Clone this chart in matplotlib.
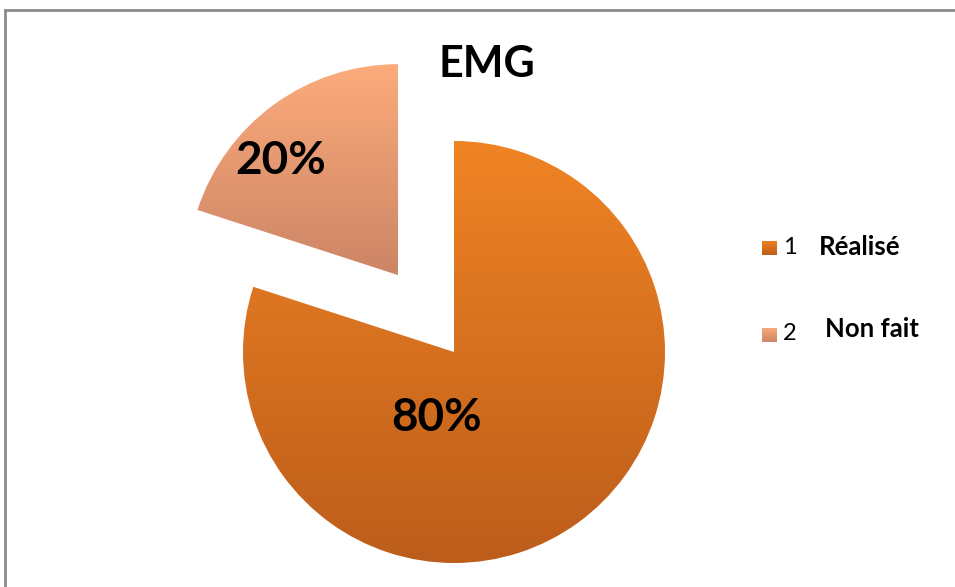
import matplotlib.pyplot as plt
from matplotlib.colors import LinearSegmentedColormap
from matplotlib.patches import Rectangle
import numpy as np

categories = ['Réalisé', 'Non fait']
codes = ['1', '2']
values = [80, 20]
title = 'EMG'

# top -> bottom gradient of each slice
grads = [('#F08424', '#BC5D1B'), ('#FCAB7B', '#CC8566')]

W, H = 955, 587
plt.rcParams['font.family'] = ['Lato', 'DejaVu Sans']


def fill_gradient(ax, patch, top, bottom, z=2):
    cmap = LinearSegmentedColormap.from_list('g', [top, bottom])
    bb = patch.get_path().transformed(patch.get_patch_transform()).get_extents()
    grad = np.linspace(0, 1, 256).reshape(-1, 1)
    im = ax.imshow(grad, cmap=cmap, aspect='auto', origin='upper',
                   extent=(bb.x0, bb.x1, bb.y0, bb.y1), zorder=z)
    im.set_clip_path(patch)
    patch.set_facecolor('none')
    patch.set_edgecolor('none')


fig = plt.figure(figsize=(W / 100, H / 100), dpi=100)
ax = fig.add_axes([0, 0, 1, 1])

wedges, texts, autotexts = ax.pie(values, explode=[0, 95], startangle=90,
                                  counterclock=False, radius=211,
                                  center=(454, H - 352), autopct='%d%%',
                                  textprops=dict(fontsize=33, fontweight='bold',
                                                 color='black'))
for w, (top, bot) in zip(wedges, grads):
    fill_gradient(ax, w, top, bot)

label_pos = [(437, H - 418), (281, H - 161)]
for t, p in zip(autotexts, label_pos):
    t.set_position(p)
    t.set_zorder(5)

ax.text(487, H - 64, title, ha='center', va='center', fontsize=31,
        fontweight='bold')

# legend
leg_y = [248, 335]
for i, (code, name) in enumerate(zip(codes, categories)):
    y = H - leg_y[i]
    sq = Rectangle((762, y - 7.5), 15, 15)
    ax.add_patch(sq)
    fill_gradient(ax, sq, *grads[i], z=3)
    ax.text(783, y + 1, code, ha='left', va='center', fontsize=17)
    ax.text(819 + 6 * i, y + 1 + 5 * i, name, ha='left', va='center',
            fontsize=18.5, fontweight='bold')

# outer frame
ax.plot([5, W], [H - 10, H - 10], color='#8c8c8c', lw=2, zorder=6)
ax.plot([5, 5], [H - 10, 0], color='#8c8c8c', lw=2, zorder=6)

ax.set_xlim(0, W)
ax.set_ylim(0, H)
ax.set_aspect('auto')
ax.axis('off')

fig.savefig('out.png', dpi=100)
